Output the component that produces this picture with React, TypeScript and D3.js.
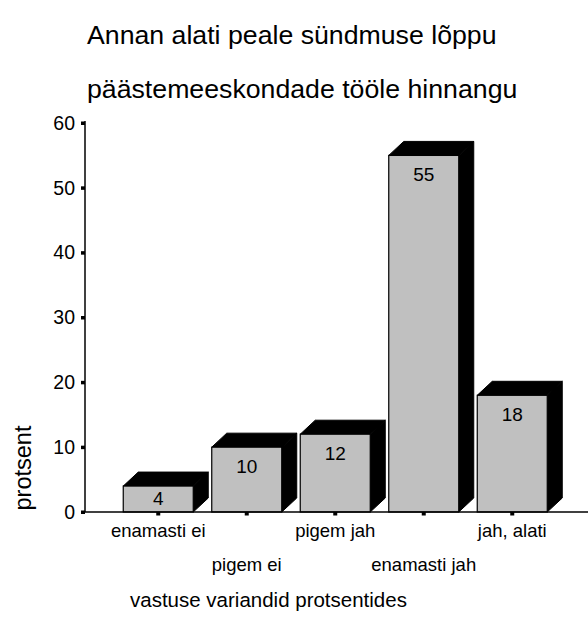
import React from "react";
import * as d3 from "d3";

const categories = ["enamasti ei", "pigem ei", "pigem jah", "enamasti jah", "jah, alati"];
const values = [4, 10, 12, 55, 18];
const yTicks = [0, 10, 20, 30, 40, 50, 60];
const titleLines = ["Annan alati peale sündmuse lõppu", "päästemeeskondade tööle hinnangu"];
const yTitle = "protsent";
const xTitle = "vastuse variandid protsentides";

const W = 588;
const H = 633;
const FONT = "'Liberation Sans', Arial, sans-serif";

export default function App() {
  const axisX = 85;
  const y = d3.scaleLinear().domain([0, 60]).range([512, 123]);
  const x = d3
    .scaleBand<string>()
    .domain(categories)
    .range([114, 556.5])
    .paddingInner(0.209)
    .paddingOuter(0.1045);
  const bw = x.bandwidth();
  const dx = 15;
  const dy = 14;
  const base = y(0);

  return (
    <svg
      width={W}
      height={H}
      style={{ position: "absolute", left: 0, top: 0, background: "#fff" }}
      fontFamily={FONT}
    >
      <rect x={0} y={0} width={W} height={H} fill="#fff" />
      {titleLines.map((t, i) => (
        <text key={t} x={87} y={44 + i * 54} fontSize={26.7} fill="#000">
          {t}
        </text>
      ))}
      {/* y axis */}
      <line x1={axisX} x2={axisX} y1={y(60) - 2} y2={base} stroke="#000" strokeWidth={1.5} />
      {yTicks.map((t) => (
        <g key={t}>
          <rect x={axisX - 4} y={y(t) - 1.5} width={4} height={3.5} fill="#000" />
          <text x={75} y={y(t) + 6.8} textAnchor="end" fontSize={19.5} fill="#000">
            {t}
          </text>
        </g>
      ))}
      {/* bars */}
      {categories.map((c, i) => {
        const bx = x(c)!;
        const top = y(values[i]);
        const labelY = Math.min(top + 26, base - 7);
        return (
          <g key={c}>
            <polygon
              points={`${bx},${top} ${bx + dx},${top - dy} ${bx + bw + dx},${top - dy} ${bx + bw},${top}`}
              fill="#000"
              stroke="#000"
              strokeWidth={1}
            />
            <polygon
              points={`${bx + bw},${top} ${bx + bw + dx},${top - dy} ${bx + bw + dx},${base - dy} ${bx + bw},${base}`}
              fill="#000"
              stroke="#000"
              strokeWidth={1}
            />
            <rect x={bx} y={top} width={bw} height={base - top} fill="#c0c0c0" stroke="#000" strokeWidth={1.2} />
            <text x={bx + bw / 2} y={labelY} textAnchor="middle" fontSize={19} fill="#000">
              {values[i]}
            </text>
          </g>
        );
      })}
      {/* x axis */}
      <line x1={axisX} x2={W} y1={base} y2={base} stroke="#000" strokeWidth={1.5} />
      {categories.map((c, i) => {
        const cx = x(c)! + bw / 2;
        return (
          <g key={c + "t"}>
            <rect x={cx - 2} y={base} width={4} height={3.5} fill="#000" />
            <text x={cx} y={i % 2 === 0 ? 537 : 571} textAnchor="middle" fontSize={18.5} fill="#000">
              {c}
            </text>
          </g>
        );
      })}
      <text
        transform={`translate(31,468) rotate(-90)`}
        textAnchor="middle"
        fontSize={23.5}
        fill="#000"
      >
        {yTitle}
      </text>
      <text x={130} y={607} fontSize={20.5} fill="#000">
        {xTitle}
      </text>
    </svg>
  );
}
